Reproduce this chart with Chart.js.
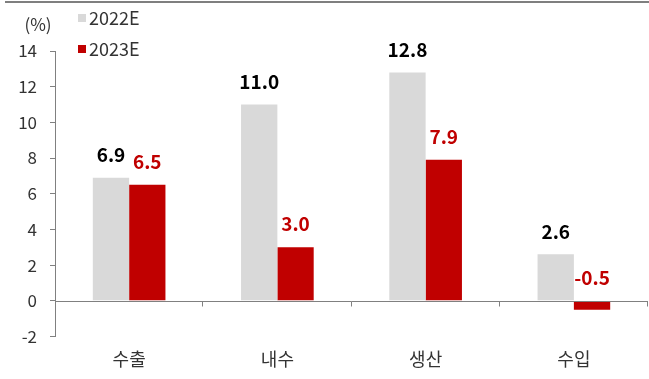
<!DOCTYPE html>
<html>
<head>
<meta charset="utf-8">
<script src="https://cdn.jsdelivr.net/npm/chart.js@4"></script>
<style>
  body { margin: 0; background: #fff; }
  #topline { position: absolute; left: 5px; right: 0; top: 1px; height: 0; border-top: 2px solid #7f7f7f; }
  #wrap { position: absolute; left: 0; top: 0; width: 649px; height: 379px; }
</style>
</head>
<body>
<div id="topline"></div>
<div id="wrap"><canvas id="myChart" width="649" height="379"></canvas></div>
<script>
const labels = ['수출', '내수', '생산', '수입']
const seriesNames = ['2022E', '2023E']
const vals2022 = [6.9, 11.0, 12.8, 2.6]
const vals2023 = [6.5, 3.0, 7.9, -0.5]
const yTicks = [-2, 0, 2, 4, 6, 8, 10, 12, 14]

const FONT = '"Noto Sans CJK KR", "Noto Sans", sans-serif'
const gray = '#d9d9d9'
const red = '#c00000'

// zero line with category tick marks, value labels, legend and unit
const extras = {
  id: 'extras',
  afterDatasetsDraw(chart) {
    const ctx = chart.ctx
    const area = chart.chartArea
    const y = chart.scales.y
    const y0 = Math.round(y.getPixelForValue(0)) + 0.5

    ctx.save()
    ctx.strokeStyle = '#808080'
    ctx.lineWidth = 1
    ctx.beginPath()
    ctx.moveTo(area.left, y0)
    ctx.lineTo(area.right, y0)
    const w = (area.right - area.left) / labels.length
    for (let k = 1; k <= labels.length; k++) {
      const x = Math.round(area.left + k * w) - 0.5
      ctx.moveTo(x, y0)
      ctx.lineTo(x, y0 + 5)
    }
    ctx.stroke()

    // value labels
    ctx.font = 'bold 19px ' + FONT
    ctx.textAlign = 'center'
    ctx.textBaseline = 'middle'
    chart.data.datasets.forEach((ds, i) => {
      const meta = chart.getDatasetMeta(i)
      meta.data.forEach((bar, j) => {
        const top = Math.min(bar.y, bar.base)
        ctx.fillStyle = ds.labelColor
        ctx.fillText(ds.data[j].toFixed(1), bar.x, top - 23)
      })
    })

    // legend
    ctx.font = '18px ' + FONT
    ctx.textAlign = 'left'
    chart.data.datasets.forEach((ds, i) => {
      const ly = 18 + i * 31
      ctx.fillStyle = ds.backgroundColor
      ctx.fillRect(78, ly - 4, 8, 8)
      ctx.fillStyle = '#333'
      ctx.fillText(ds.label, 89, ly)
    })

    ctx.font = '17px ' + FONT
    ctx.textAlign = 'center'
    ctx.fillText('(%)', 38, 25)
    ctx.restore()
  }
}

const data = {
  labels: labels,
  datasets: [{
    label: seriesNames[0],
    data: vals2022,
    backgroundColor: gray,
    labelColor: '#000'
  }, {
    label: seriesNames[1],
    data: vals2023,
    backgroundColor: red,
    labelColor: red
  }]
}

const config = {
  type: 'bar',
  data: data,
  options: {
    responsive: false,
    animation: false,
    layout: { padding: { top: 51, right: 1, bottom: 5, left: 0 } },
    datasets: { bar: { categoryPercentage: 0.49, barPercentage: 1 } },
    plugins: { legend: { display: false }, tooltip: { enabled: false } },
    scales: {
      x: {
        grid: { display: false },
        border: { display: false },
        ticks: { color: '#333', font: { family: FONT, size: 18 }, padding: 4 }
      },
      y: {
        min: -2,
        max: 14,
        afterBuildTicks: (s) => { s.ticks = yTicks.map(v => ({ value: v })) },
        afterFit: (s) => { s.width = 55 },
        grid: { drawOnChartArea: false, drawTicks: true, tickLength: 5, color: '#808080' },
        border: { display: true, color: '#808080' },
        ticks: { color: '#333', font: { family: FONT, size: 17 }, padding: 13 }
      }
    }
  },
  plugins: [extras]
}

const myChart = new Chart(document.getElementById('myChart'), config)
</script>
</body>
</html>
